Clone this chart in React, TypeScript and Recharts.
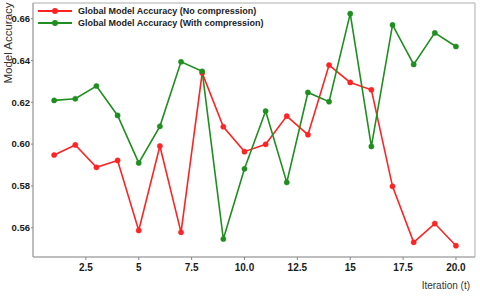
import { LineChart, Line, XAxis, YAxis, Legend, ReferenceLine, Label } from "recharts";

const iterations = [1, 2, 3, 4, 5, 6, 7, 8, 9, 10, 11, 12, 13, 14, 15, 16, 17, 18, 19, 20];
const noCompression = [
  0.5948, 0.5996, 0.5889, 0.5922, 0.5587, 0.5991, 0.5578, 0.634, 0.6083, 0.5964,
  0.5999, 0.6134, 0.6045, 0.6378, 0.6295, 0.626, 0.5798, 0.553, 0.562, 0.5514,
];
const withCompression = [
  0.6209, 0.6217, 0.6278, 0.6137, 0.591, 0.6085, 0.6394, 0.6348, 0.5546, 0.5882,
  0.6158, 0.5817, 0.6247, 0.6203, 0.6624, 0.5989, 0.657, 0.6381, 0.6532, 0.6467,
];
const xTicks = [2.5, 5, 7.5, 10, 12.5, 15, 17.5, 20];
const xTickLabels = ["2.5", "5", "7.5", "10.0", "12.5", "15", "17.5", "20.0"];
const yTicks = [0.56, 0.58, 0.6, 0.62, 0.64, 0.66];

const RED = "#ff2424";
const GREEN = "#1f8f1f";
const FONT = "'Liberation Sans', Arial, sans-serif";

const series = [
  { key: "noComp", name: "Global Model Accuracy (No compression)", color: RED },
  { key: "withComp", name: "Global Model Accuracy (With compression)", color: GREEN },
];

const data = iterations.map((t, i) => ({
  t,
  noComp: noCompression[i],
  withComp: withCompression[i],
}));

function LegendBox() {
  return (
    <div style={{ fontFamily: FONT, fontSize: 9, fontWeight: 700, color: "#222", lineHeight: "12px", whiteSpace: "nowrap" }}>
      {series.map((s) => (
        <div key={s.key} style={{ display: "flex", alignItems: "center", height: 12 }}>
          <svg width={40} height={10} style={{ marginRight: 2 }}>
            <line x1={2} y1={5} x2={36} y2={5} stroke={s.color} strokeWidth={2} />
            <circle cx={19} cy={5} r={3} fill={s.color} />
          </svg>
          <span>{s.name}</span>
        </div>
      ))}
    </div>
  );
}

export default function App() {
  const xTick = { fill: "#1a1a1a", fontSize: 10, fontWeight: 700, fontFamily: FONT };
  const yTick = { fill: "#1a1a1a", fontSize: 9.5, fontWeight: 700, fontFamily: FONT };
  return (
    <div style={{ width: 480, height: 296, background: "#fff" }}>
      <style>{`body{margin:0}`}</style>
      <LineChart width={480} height={296} data={data} margin={{ top: 3, right: 5, bottom: 9, left: 0 }}>
        <XAxis
          dataKey="t"
          type="number"
          domain={[0, 20.9]}
          allowDataOverflow
          ticks={xTicks}
          tickFormatter={(v) => xTickLabels[xTicks.indexOf(v)] ?? String(v)}
          tick={xTick}
          tickSize={3}
          tickMargin={4}
          height={30}
          axisLine={{ stroke: "#a8a8a8", strokeWidth: 1.5 }}
          tickLine={{ stroke: "#888" }}
        >
          <Label
            content={() => (
              <text x={470} y={289} textAnchor="end" fontSize={10} fill="#333" fontFamily={FONT}>
                Iteration (t)
              </text>
            )}
          />
        </XAxis>
        <YAxis
          type="number"
          domain={[0.546, 0.6675]}
          allowDataOverflow
          ticks={yTicks}
          tickFormatter={(v) => v.toFixed(2)}
          tick={yTick}
          tickSize={2}
          tickMargin={1}
          width={33}
          axisLine={{ stroke: "#a8a8a8", strokeWidth: 1.5 }}
          tickLine={{ stroke: "#888" }}
        >
          <Label
            content={() => (
              <text
                x={11.5}
                y={43}
                transform="rotate(-90 11.5 43)"
                textAnchor="middle"
                fontSize={11.5}
                fill="#333"
                fontFamily={FONT}
              >
                Model Accuracy
              </text>
            )}
          />
        </YAxis>
        <ReferenceLine y={0.6675} stroke="#c8c8c8" strokeWidth={1.5} />
        <ReferenceLine x={20.9} stroke="#c8c8c8" strokeWidth={1.5} />
        <Legend
          content={<LegendBox />}
          layout="horizontal"
          verticalAlign="middle"
          align="center"
          wrapperStyle={{ top: 5, left: 36, width: "auto" }}
        />
        {series.map((s) => (
          <Line
            key={s.key}
            dataKey={s.key}
            name={s.name}
            stroke={s.color}
            strokeWidth={1.6}
            dot={{ r: 2.6, fill: s.color, stroke: s.color, strokeWidth: 0.5 }}
            isAnimationActive={false}
          />
        ))}
      </LineChart>
    </div>
  );
}
